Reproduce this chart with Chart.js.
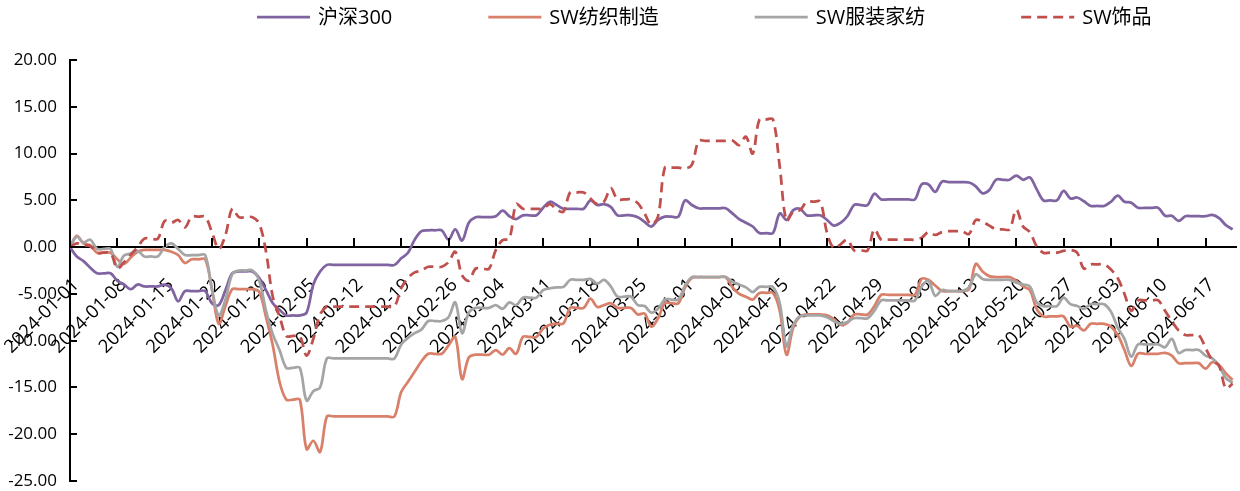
<!DOCTYPE html>
<html>
<head>
<meta charset="utf-8">
<title>沪深300与SW纺服板块累计涨跌幅</title>
<script src="https://cdn.jsdelivr.net/npm/chart.js@4.4.1/dist/chart.umd.min.js"></script>
<style>
    html, body { margin: 0; padding: 0; background: #fff; }
    #wrap { width: 1240px; height: 491px; }
</style>
</head>
<body>
<div id="wrap"><canvas id="perfChart" width="1240" height="491"></canvas></div>
<script>
// Cumulative return (%) since 2024-01-01, one value per calendar day (index 0 = 01-01,
// weekends and holidays carry the last close)
let hs300 = [
    0, -1.0, -1.5, -2.2, -2.8, -2.8, -2.8,
    -3.6, -4.0, -4.5, -4.0, -4.2, -4.2, -4.2,
    -4.0, -4.4, -5.8, -4.7, -4.7, -4.7, -4.7,
    -6.0, -6.2, -4.6, -2.8, -2.6, -2.6, -2.6,
    -3.3, -4.6, -6.0, -6.7, -7.3, -7.3, -7.3,
    -7.0, -4.0, -2.6, -1.9, -1.9, -1.9, -1.9,
    -1.9, -1.9, -1.9, -1.9, -1.9, -1.9, -1.9,
    -1.2, -0.6, 0.8, 1.7, 1.8, 1.8, 1.8,
    0.8, 1.9, 0.7, 2.6, 3.2, 3.2, 3.2,
    3.3, 3.9, 3.3, 3.0, 3.4, 3.4, 3.4,
    4.2, 4.85, 4.5, 4.1, 4.1, 4.1, 4.1,
    5.0, 4.5, 4.6, 4.3, 3.4, 3.4, 3.4,
    3.2, 2.7, 2.2, 2.9, 3.25, 3.25, 3.25,
    5.0, 4.5, 4.15, 4.15, 4.15, 4.15, 4.15,
    3.6, 3.0, 2.6, 2.2, 1.5, 1.5, 1.5,
    3.6, 2.9, 3.95, 4.1, 3.4, 3.4, 3.4,
    2.9, 2.3, 2.6, 3.3, 4.5, 4.5, 4.5,
    5.7, 5.1, 5.1, 5.1, 5.1, 5.1, 5.1,
    6.7, 6.7, 5.9, 7.0, 6.95, 6.95, 6.95,
    6.9, 6.5, 5.75, 6.1, 7.2, 7.2, 7.2,
    7.65, 7.2, 7.45, 6.2, 5.0, 5.0, 5.0,
    6.0, 5.2, 5.3, 4.9, 4.4, 4.4, 4.4,
    4.85, 5.5, 4.85, 4.75, 4.2, 4.2, 4.2,
    4.2, 3.35, 3.35, 2.8, 3.3, 3.3, 3.3,
    3.3, 3.45, 3.1, 2.35, 1.9
];
let swTextile = [
    0, 1.2, 0.4, 0.2, -0.6, -0.6, -0.6,
    -1.3, -1.8, -1.1, -0.5, -0.3, -0.3, -0.3,
    -0.3, -0.5, -0.85, -1.7, -1.3, -1.3, -1.3,
    -4.5, -8.2, -6.3, -4.5, -4.5, -4.5, -4.5,
    -4.8, -7.5, -10.5, -14.4, -16.3, -16.3, -16.3,
    -21.6, -20.7, -21.9, -18.1, -18.1, -18.1, -18.1,
    -18.1, -18.1, -18.1, -18.1, -18.1, -18.1, -18.1,
    -15.5, -14.4, -13.3, -12.2, -11.4, -11.4, -11.4,
    -10.5, -9.6, -14.1, -11.8, -11.5, -11.5, -11.5,
    -11.0, -11.5, -10.8, -11.4, -9.6, -9.6, -9.6,
    -8.7, -8.3, -8.2, -8.15, -6.5, -6.5, -6.5,
    -5.5, -6.4, -6.2, -6.0, -6.5, -6.5, -6.5,
    -7.2, -7.1, -8.5, -7.6, -6.0, -6.0, -6.0,
    -4.3, -3.3, -3.2, -3.2, -3.2, -3.2, -3.2,
    -4.3, -5.0, -5.3, -5.6, -4.9, -4.9, -4.9,
    -6.8, -11.5, -8.6, -7.4, -7.2, -7.2, -7.2,
    -7.3, -7.7, -8.3, -8.1, -7.2, -7.2, -7.2,
    -6.3, -5.1, -5.1, -5.1, -5.1, -5.1, -5.1,
    -3.4, -3.5, -4.1, -4.7, -4.7, -4.7, -4.7,
    -4.5, -1.8, -2.6, -3.1, -3.2, -3.2, -3.2,
    -3.6, -4.2, -4.6, -6.6, -7.4, -7.4, -7.4,
    -7.4, -8.5, -8.4, -8.9, -8.2, -8.2, -8.2,
    -8.5, -9.4, -11.0, -12.7, -11.4, -11.4, -11.4,
    -11.4, -11.3, -11.6, -12.4, -12.4, -12.4, -12.4,
    -13.0, -12.3, -12.6, -13.5, -14.2
];
let swApparel = [
    0, 1.1, 0.5, 0.8, -0.2, -0.2, -0.2,
    -2.1, -0.9, -0.7, -0.4, -1.0, -1.0, -1.0,
    0.0, 0.4, -0.2, -0.85, -0.85, -0.85, -0.85,
    -4.5, -7.3, -5.6, -2.9, -2.5, -2.5, -2.5,
    -3.6, -6.8, -9.3, -11.0, -12.9, -12.9, -12.9,
    -16.4, -15.4, -15.0, -11.9, -11.9, -11.9, -11.9,
    -11.9, -11.9, -11.9, -11.9, -11.9, -11.9, -11.9,
    -10.4, -9.7, -9.2, -8.8, -7.9, -7.9, -7.9,
    -7.5, -5.9, -9.2, -7.0, -6.5, -6.5, -6.5,
    -6.2, -6.6, -5.9, -6.2, -5.4, -5.4, -5.4,
    -4.6, -4.4, -4.3, -4.25, -3.5, -3.5, -3.5,
    -3.4, -3.9, -3.5, -4.2, -5.3, -5.3, -5.3,
    -6.2, -6.3, -7.0, -6.6, -5.6, -5.6, -5.6,
    -4.1, -3.2, -3.2, -3.2, -3.2, -3.2, -3.2,
    -3.7, -4.0, -4.3, -4.8, -4.25, -4.25, -4.25,
    -6.0, -10.6, -8.3, -7.4, -7.3, -7.3, -7.3,
    -7.5, -7.9, -8.2, -8.0, -7.6, -7.6, -7.6,
    -6.8, -5.7, -5.7, -5.7, -5.7, -5.7, -5.7,
    -4.2, -3.6, -5.2, -4.6, -4.7, -4.7, -4.7,
    -4.3, -2.9, -3.4, -3.5, -3.5, -3.5, -3.5,
    -3.8, -4.0, -4.2, -5.9, -6.3, -6.3, -6.3,
    -5.4, -6.1, -6.3, -6.6, -6.1, -6.1, -6.1,
    -6.9, -8.6, -9.8, -11.7, -10.4, -10.4, -10.4,
    -10.4, -10.7, -9.8, -11.3, -11.0, -11.0, -11.0,
    -11.6, -11.9, -12.7, -14.0, -14.5
];
let swJewelry = [
    0, 0.4, 0.2, 0.1, -0.6, -0.6, -0.6,
    -2.3, -1.6, -0.8, 0.0, 0.9, 0.9, 0.9,
    2.8, 2.6, 2.9, 2.1, 3.25, 3.25, 3.25,
    1.6, -0.2, 1.3, 4.1, 3.2, 3.2, 3.2,
    2.5, -0.5, -5.3, -7.4, -9.5, -9.5, -9.5,
    -11.6, -9.8, -7.2, -6.35, -6.35, -6.35, -6.35,
    -6.35, -6.35, -6.35, -6.35, -6.35, -6.35, -6.35,
    -4.4, -3.3, -2.7, -2.5, -2.1, -2.1, -2.1,
    -1.6, -0.5, -3.0, -3.6, -2.3, -2.3, -2.3,
    -0.3, 0.75, 0.9, 4.6, 4.1, 4.1, 4.1,
    4.1, 4.6, 4.0, 3.8, 5.85, 5.85, 5.85,
    5.2, 4.6, 4.85, 6.3, 5.1, 5.1, 5.1,
    4.7, 3.6, 2.4, 3.3, 8.5, 8.5, 8.5,
    8.4, 8.8, 11.35, 11.35, 11.35, 11.35, 11.35,
    11.4, 10.9, 11.8, 10.0, 13.65, 13.65, 13.65,
    8.6, 2.8, 3.8, 3.95, 4.85, 4.85, 4.85,
    1.5, -0.1, 0.3, 0.8, -0.35, -0.35, -0.35,
    1.9, 0.8, 0.8, 0.8, 0.8, 0.8, 0.8,
    1.0, 1.6, 1.3, 1.6, 1.7, 1.7, 1.7,
    1.4, 2.9, 2.7, 2.3, 1.9, 1.9, 1.9,
    4.0, 2.2, 1.6, 0.1, -0.6, -0.6, -0.6,
    -0.4, -0.3, -0.6, -2.3, -1.85, -1.85, -1.85,
    -2.4, -3.3, -5.0, -6.8, -5.7, -5.7, -5.7,
    -5.7, -6.8, -7.9, -8.9, -9.4, -9.4, -9.4,
    -10.8, -12.1, -12.7, -15.1, -14.6
];

// weekly labels on the date axis, one every 7 days from 01-01
let tickLabels = [
    "2024-01-01", "2024-01-08", "2024-01-15", "2024-01-22", "2024-01-29",
    "2024-02-05", "2024-02-12", "2024-02-19", "2024-02-26", "2024-03-04",
    "2024-03-11", "2024-03-18", "2024-03-25", "2024-04-01", "2024-04-08",
    "2024-04-15", "2024-04-22", "2024-04-29", "2024-05-06", "2024-05-13",
    "2024-05-20", "2024-05-27", "2024-06-03", "2024-06-10", "2024-06-17"
];
let days = hs300.map((v, i) => i);

const FONT = '"Open Sans", "Noto Sans CJK SC", sans-serif';

// legend drawn across the top, line sample + name
const topLegend = {
    id: "topLegend",
    afterDraw(chart) {
        const ctx = chart.ctx;
        ctx.save();
        ctx.font = "20px " + FONT;
        ctx.textBaseline = "middle";
        let x = 257;
        const y = 17;
        chart.data.datasets.forEach(ds => {
            ctx.strokeStyle = ds.borderColor;
            ctx.lineWidth = ds.borderWidth;
            ctx.setLineDash(ds.borderDash || []);
            ctx.beginPath();
            ctx.moveTo(x, y);
            ctx.lineTo(x + 53, y);
            ctx.stroke();
            ctx.setLineDash([]);
            ctx.fillStyle = "#000";
            ctx.fillText(ds.label, x + 61, y + 1);
            x += 61 + ctx.measureText(ds.label).width + 96;
        });
        ctx.restore();
    }
};

// tick marks: up from the zero line on x, inward from the y axis
const axisTicks = {
    id: "axisTicks",
    afterDatasetsDraw(chart) {
        const { ctx, scales: { x, y } } = chart;
        const y0 = y.getPixelForValue(0);
        ctx.save();
        ctx.strokeStyle = "#000";
        ctx.lineWidth = 2;
        ctx.beginPath();
        x.ticks.forEach(t => {
            const px = Math.round(x.getPixelForValue(t.value));
            ctx.moveTo(px, y0);
            ctx.lineTo(px, y0 - 9);
        });
        y.ticks.forEach(t => {
            const py = Math.round(y.getPixelForValue(t.value));
            ctx.moveTo(x.left, py);
            ctx.lineTo(x.left + 7, py);
        });
        ctx.stroke();
        ctx.restore();
    }
};

function lineSet(label, data, color, order, dash) {
    return {
        label: label,
        data: data,
        borderColor: color,
        backgroundColor: color,
        borderWidth: 2.75,
        borderDash: dash || [],
        pointRadius: 0,
        tension: 0.35,
        fill: false,
        order: order
    };
}

const ctx = document.getElementById("perfChart").getContext("2d");
let perfChart = new Chart(ctx, {
    type: "line",
    data: {
        labels: days,
        datasets: [
            lineSet("沪深300", hs300, "#8064A2", 4),
            lineSet("SW纺织制造", swTextile, "#D9806B", 3),
            lineSet("SW服装家纺", swApparel, "#A5A5A5", 2),
            lineSet("SW饰品", swJewelry, "#C0504D", 1, [10, 6])
        ]
    },
    options: {
        responsive: false,
        animation: false,
        devicePixelRatio: 1,
        layout: { padding: { top: 60, right: 4, bottom: 10, left: 0 } },
        plugins: {
            legend: { display: false },
            tooltip: { enabled: false }
        },
        scales: {
            x: {
                type: "linear",
                min: 0,
                max: 172.5,
                position: { y: 0 },
                afterBuildTicks: s => { s.ticks = tickLabels.map((t, i) => ({ value: i * 7 })); },
                afterFit: s => { s.paddingLeft = 0; s.paddingRight = 0; },
                ticks: {
                    autoSkip: false,
                    minRotation: 45,
                    maxRotation: 45,
                    padding: 27,
                    labelOffset: 6,
                    color: "#000",
                    font: { family: FONT, size: 18.5 },
                    callback: (v, i) => tickLabels[i]
                },
                grid: { display: false, drawTicks: false },
                border: { color: "#000", width: 2 }
            },
            y: {
                min: -25,
                max: 20,
                afterFit: s => { s.width = 70; s.paddingTop = 0; s.paddingBottom = 0; },
                ticks: {
                    stepSize: 5,
                    padding: 13,
                    color: "#000",
                    font: { family: FONT, size: 17 },
                    callback: v => v.toFixed(2)
                },
                grid: { display: false, drawTicks: false },
                border: { color: "#000", width: 2 }
            }
        }
    },
    plugins: [axisTicks, topLegend]
});
</script>
</body>
</html>
